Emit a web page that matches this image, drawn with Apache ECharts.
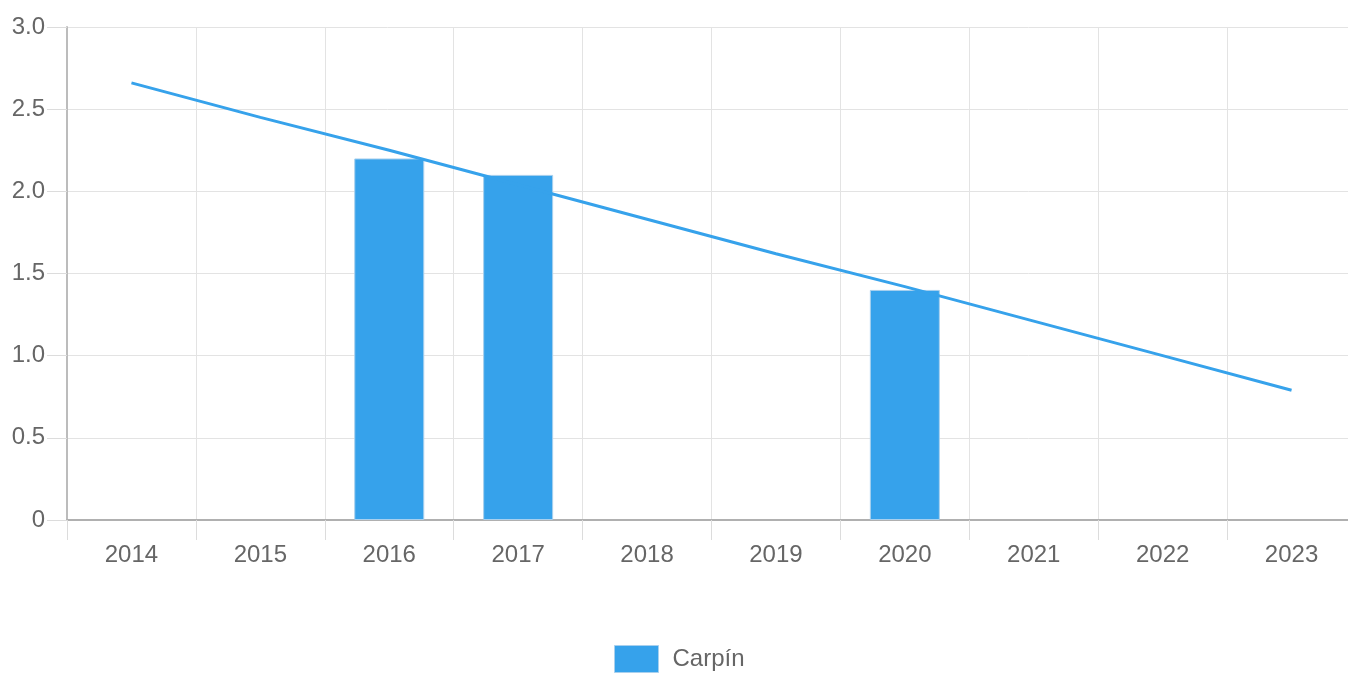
<!DOCTYPE html>
<html lang="es">
<head>
    <meta charset="UTF-8">
    <title>Carpín</title>
    <script src="https://cdn.jsdelivr.net/npm/echarts@6/dist/echarts.min.js"></script>
    <style>
        html, body { margin: 0; padding: 0; background: #fff; }
        #chart { width: 1348px; height: 673px; }
    </style>
</head>
<body>
    <div id="chart"></div>
    <script>
        const years = ['2014', '2015', '2016', '2017', '2018', '2019', '2020', '2021', '2022', '2023'];
        const carpinValues = [null, null, 2.2, 2.1, null, null, 1.4, null, null, null];
        const trendValues = [2.66, 2.45, 2.25, 2.04, 1.83, 1.62, 1.42, 1.21, 1.0, 0.79];
        const yTicks = ['0', '0.5', '1.0', '1.5', '2.0', '2.5', '3.0'];

        const blue = '#36a2eb';
        const font = '"Liberation Sans", Arial, sans-serif';
        const chart = echarts.init(document.getElementById('chart'));

        chart.setOption({
            animation: false,
            grid: { left: 67, width: 1289, top: 27, bottom: 153, outerBoundsMode: 'none' },
            legend: {
                top: 640,
                left: 609,
                data: ['Carpín'],
                icon: 'rect',
                itemWidth: 44,
                itemHeight: 27,
                itemStyle: { borderColor: '#a8d0ee', borderWidth: 1 },
                textStyle: { color: '#666', fontSize: 24, fontFamily: font, padding: [0, 0, 0, 9] }
            },
            xAxis: {
                type: 'category',
                data: years,
                axisLine: { lineStyle: { color: '#b0b0b0', width: 2 } },
                axisTick: { show: true, length: 20, lineStyle: { color: '#dcdcdc' } },
                axisLabel: { color: '#666', fontSize: 24, margin: 23, fontFamily: font },
                splitLine: { show: true, lineStyle: { color: '#e3e3e3' } }
            },
            yAxis: {
                type: 'value',
                min: 0,
                max: 3,
                interval: 0.5,
                axisLine: { show: true, lineStyle: { color: '#bcbcbc', width: 2 } },
                axisTick: { show: true, length: 20, lineStyle: { color: '#dcdcdc' } },
                axisLabel: {
                    color: '#666',
                    fontSize: 24,
                    margin: 22,
                    fontFamily: font,
                    formatter: function (v) { return yTicks[Math.round(v / 0.5)]; }
                },
                splitLine: { lineStyle: { color: '#e3e3e3' } }
            },
            series: [
                {
                    name: 'Carpín',
                    type: 'bar',
                    data: carpinValues,
                    barWidth: 70,
                    itemStyle: { color: blue, borderColor: '#a8d0ee', borderWidth: 1 }
                },
                {
                    name: 'Tendencia',
                    type: 'line',
                    data: trendValues,
                    symbol: 'none',
                    lineStyle: { color: blue, width: 3 },
                    z: 3
                }
            ]
        });
    </script>
</body>
</html>
